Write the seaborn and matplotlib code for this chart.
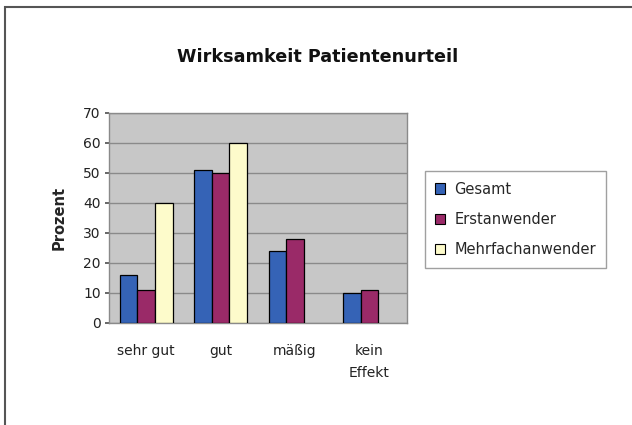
import numpy as np
import pandas as pd
import matplotlib
matplotlib.use("Agg")
import matplotlib.pyplot as plt
import seaborn as sns
from matplotlib.patches import Rectangle

categories = ["sehr gut", "gut", "mäßig", "kein\nEffekt"]
series_names = ["Gesamt", "Erstanwender", "Mehrfachanwender"]
gesamt = [16, 51, 24, 10]
erstanwender = [11, 50, 28, 11]
mehrfachanwender = [40, 60, np.nan, np.nan]
yticks = [0, 10, 20, 30, 40, 50, 60, 70]
title = "Wirksamkeit Patientenurteil"
ylabel = "Prozent"

colors = ["#3563b6", "#9a2a68", "#fdfbcb"]

rows = []
for s, vals in zip(series_names, [gesamt, erstanwender, mehrfachanwender]):
    for c, v in zip(categories, vals):
        rows.append({"Kategorie": c, "Serie": s, "Wert": v})
df = pd.DataFrame(rows)

sns.set_theme(style="white")
plt.rcParams["font.family"] = ["DejaVu Sans"]

fig = plt.figure(figsize=(6.32, 4.25), dpi=100)
fig.patch.set_facecolor("white")
ax = fig.add_axes([109 / 632, 1 - 323 / 425, 297.7 / 632, 210 / 425])

sns.barplot(data=df, x="Kategorie", y="Wert", hue="Serie", order=categories,
            hue_order=series_names, palette=colors, width=0.71, gap=0,
            edgecolor="black", linewidth=0.9, saturation=1, ax=ax, zorder=3)

ax.set_facecolor("#c7c7c7")
ax.set_ylim(0, 70)
ax.set_yticks(yticks)
ax.set_yticklabels([str(t) for t in yticks], fontsize=10, color="#222222")
ax.set_xlim(-0.5, 3.5)
ax.tick_params(axis="x", length=0, pad=15, labelsize=10, labelcolor="#222222")
for lbl in ax.get_xticklabels():
    lbl.set_linespacing(1.7)
ax.tick_params(axis="y", length=3, pad=3, left=True, color="#555555")
ax.yaxis.grid(True, color="#8a8a8a", linewidth=1.0, zorder=0)
ax.set_axisbelow(True)
for sp in ax.spines.values():
    sp.set_color("#8a8a8a")
    sp.set_linewidth(1.0)
ax.set_xlabel("")
ax.set_ylabel(ylabel, fontsize=10.5, fontweight="bold", labelpad=12)

ax.legend_.remove()
handles, labels = ax.get_legend_handles_labels()
leg = fig.legend(handles, labels, loc="upper left",
                 bbox_to_anchor=(425 / 632, 1 - 171.5 / 425),
                 frameon=True, fancybox=False, fontsize=10.5,
                 handlelength=0.7, handleheight=0.7, handletextpad=0.6,
                 labelspacing=1.05, borderpad=0.7, borderaxespad=0)
leg.get_frame().set_edgecolor("#888888")
leg.get_frame().set_linewidth(1.0)
for h in leg.legend_handles:
    h.set_edgecolor("black")
    h.set_linewidth(0.8)

fig.text(318 / 632, 1 - 57 / 425, title, ha="center", va="center",
         fontsize=12.7, fontweight="bold", color="#111111")

# outer frame (left and top edges visible, rest cropped)
fig.patches.append(Rectangle((4.5 / 632, -0.05), 1.2, (418 / 425) + 0.05,
                             transform=fig.transFigure, fill=False,
                             edgecolor="#555555", linewidth=1.5))

fig.savefig("out.png", dpi=100)
